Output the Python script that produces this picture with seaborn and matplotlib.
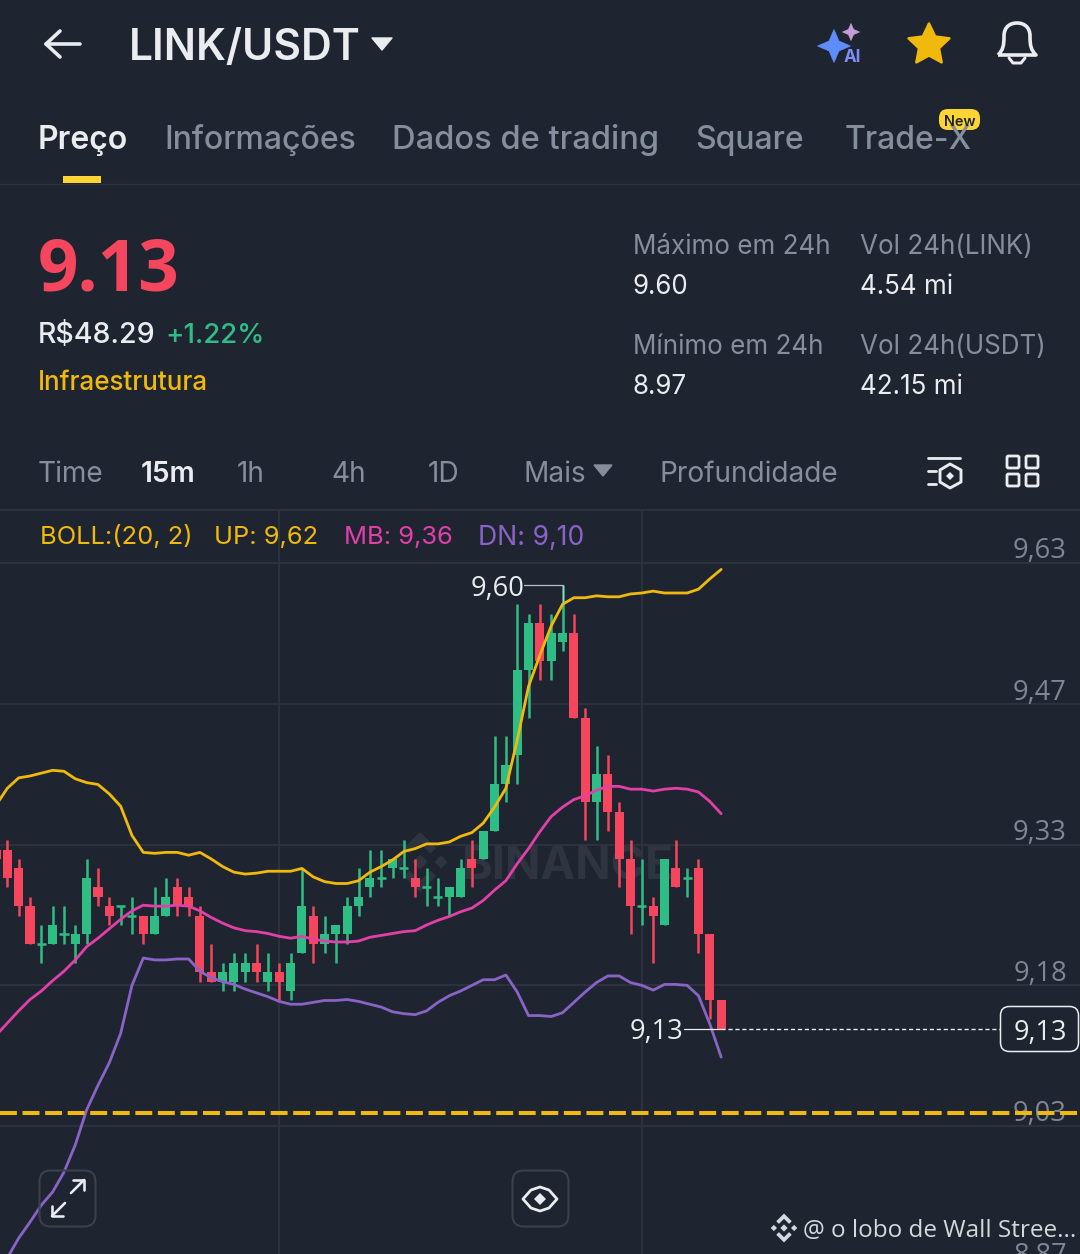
import numpy as np
import pandas as pd
import seaborn as sns
import matplotlib
matplotlib.use("Agg")
import matplotlib.pyplot as plt
from matplotlib.patches import FancyBboxPatch, Polygon, Rectangle, PathPatch
from matplotlib.path import Path
from matplotlib.transforms import ScaledTranslation

# ---------- data ----------
first_index = -1
opens  = [9.32,9.32,9.30,9.26,9.22,9.22,9.23,9.22,9.23,9.28,9.26,9.26,9.25,9.25,9.23,9.25,9.28,9.27,9.25,9.19,9.18,9.18,9.19,9.20,9.18,9.19,9.17,9.21,9.25,9.22,9.23,9.23,9.26,9.28,9.29,9.30,9.30,9.29,9.28,9.27,9.27,9.27,9.31,9.31,9.34,9.39,9.42,9.51,9.56,9.52,9.54,9.55,9.46,9.37,9.40,9.36,9.31,9.26,9.26,9.24,9.30,9.29,9.30,9.23,9.16]
highs  = [9.33,9.33,9.31,9.27,9.24,9.26,9.26,9.24,9.31,9.30,9.27,9.26,9.27,9.25,9.28,9.29,9.29,9.28,9.26,9.22,9.20,9.21,9.21,9.22,9.21,9.20,9.21,9.30,9.26,9.25,9.24,9.27,9.30,9.32,9.32,9.31,9.33,9.31,9.30,9.29,9.28,9.31,9.33,9.34,9.44,9.44,9.58,9.57,9.58,9.57,9.60,9.57,9.47,9.43,9.42,9.37,9.33,9.31,9.27,9.31,9.33,9.30,9.31,9.23,9.16]
lows   = [9.30,9.28,9.25,9.22,9.20,9.22,9.22,9.20,9.22,9.26,9.24,9.24,9.23,9.22,9.23,9.25,9.25,9.25,9.18,9.18,9.17,9.17,9.18,9.18,9.17,9.16,9.16,9.21,9.20,9.21,9.20,9.22,9.25,9.27,9.28,9.29,9.29,9.27,9.26,9.26,9.25,9.27,9.28,9.31,9.34,9.37,9.39,9.46,9.50,9.50,9.53,9.46,9.33,9.33,9.34,9.28,9.23,9.24,9.20,9.24,9.28,9.27,9.21,9.14,9.13]
closes = [9.31,9.29,9.26,9.22,9.22,9.24,9.23,9.23,9.29,9.27,9.25,9.26,9.25,9.23,9.25,9.27,9.26,9.26,9.19,9.18,9.19,9.20,9.20,9.19,9.19,9.18,9.20,9.26,9.22,9.23,9.24,9.26,9.27,9.29,9.29,9.31,9.30,9.28,9.28,9.27,9.28,9.30,9.30,9.34,9.39,9.41,9.51,9.56,9.52,9.55,9.55,9.46,9.37,9.40,9.36,9.31,9.26,9.26,9.25,9.31,9.28,9.29,9.23,9.16,9.13]
boll_up = [9.367,9.385,9.396,9.398,9.401,9.404,9.403,9.395,9.391,9.389,9.379,9.366,9.335,9.317,9.316,9.317,9.317,9.314,9.317,9.310,9.302,9.296,9.294,9.295,9.297,9.297,9.297,9.300,9.291,9.286,9.284,9.284,9.287,9.296,9.302,9.309,9.318,9.321,9.326,9.326,9.328,9.334,9.338,9.348,9.365,9.385,9.436,9.493,9.526,9.557,9.580,9.587,9.587,9.589,9.588,9.588,9.591,9.592,9.594,9.592,9.592,9.592,9.596,9.607,9.617]
boll_mb = [9.123,9.136,9.149,9.161,9.170,9.181,9.191,9.203,9.217,9.226,9.236,9.246,9.255,9.261,9.260,9.260,9.261,9.260,9.255,9.248,9.242,9.237,9.234,9.233,9.231,9.228,9.226,9.228,9.225,9.223,9.222,9.222,9.223,9.227,9.229,9.231,9.233,9.234,9.240,9.245,9.249,9.254,9.258,9.266,9.277,9.287,9.305,9.321,9.339,9.355,9.365,9.373,9.377,9.383,9.387,9.387,9.384,9.384,9.382,9.384,9.385,9.384,9.381,9.371,9.358]
boll_dn = [8.869,8.887,8.908,8.925,8.943,8.957,8.978,9.007,9.044,9.070,9.094,9.125,9.176,9.205,9.203,9.203,9.204,9.204,9.191,9.184,9.180,9.177,9.172,9.168,9.164,9.159,9.156,9.156,9.158,9.160,9.160,9.161,9.159,9.156,9.153,9.148,9.146,9.145,9.149,9.158,9.165,9.170,9.176,9.182,9.182,9.187,9.169,9.144,9.144,9.143,9.147,9.158,9.169,9.179,9.186,9.186,9.179,9.176,9.171,9.177,9.177,9.176,9.165,9.135,9.100]
axis_prices = [9.624, 9.474, 9.325, 9.176, 9.027, 8.877]
axis_labels = ["9,63", "9,47", "9,33", "9,18", "9,03", "8,87"]
grid_candles = [24, 56]
high_price, high_index, high_label = 9.60, 49, "9,60"
last_price, last_index, last_label = 9.13, 63, "9,13"
alert_price = 9.0406

BG = "#1f2530"; GRID = "#2e343f"; GREEN = "#2ebd85"; RED = "#f6465d"; WM = "#2e3540"
YEL = "#f0b90b"; MAG = "#e33fa9"; PUR = "#8a63c6"; WHITE = "#eaecef"; GRAY = "#848e9c"
NUM = ["Open Sans", "DejaVu Sans"]

sns.set_theme(style="dark", rc={"figure.facecolor": BG, "axes.facecolor": BG, "patch.edgecolor": "none"})
plt.rcParams["font.family"] = ["Inter", "DejaVu Sans"]

W, H = 1080, 1254
fig = plt.figure(figsize=(W / 100, H / 100), dpi=100, facecolor=BG)

def diamond(a, cx, cy, r, fc):
    a.add_patch(Polygon([(cx, cy - r), (cx + r, cy), (cx, cy + r), (cx - r, cy)], closed=True, fc=fc, ec="none"))

def binance_logo(a, cx, cy, r, fc):
    s = r / 30
    diamond(a, cx, cy, 7.5 * s, fc)
    for sx in (-1, 1):
        diamond(a, cx + sx * 21 * s, cy, 6.5 * s, fc)
    for sy in (-1, 1):
        chevron = [(0, 30), (16, 14), (10.5, 8.5), (0, 19), (-10.5, 8.5), (-16, 14)]
        a.add_patch(Polygon([(cx + px * s, cy + sy * py * s) for px, py in chevron], closed=True, fc=fc, ec="none"))

# ---------- watermark, beneath the chart ----------
wm = fig.add_axes([0, 0, 1, 1], facecolor="none", zorder=0)
wm.set_xlim(0, W); wm.set_ylim(H, 0); wm.axis("off")
wm.text(462, 862, "BINANCE", color=WM, fontsize=33.5, fontweight="bold", ha="left", va="center_baseline")
binance_logo(wm, 420, 862, 30, WM)

# ---------- chart axes (510 px to just below the picture) ----------
ax = fig.add_axes([0, -20 / H, 1, (H + 20 - 510) / H], facecolor="none", zorder=1)
idx = np.arange(first_index, first_index + len(opens))
df = pd.DataFrame({"i": idx, "open": opens, "high": highs, "low": lows, "close": closes,
                   "up": boll_up, "mb": boll_mb, "dn": boll_dn})
df["col"] = np.where(df.close >= df.open, GREEN, RED)
XLIM = (-0.647, 94.67); YLIM = (8.870, 9.680)

# candles
ax.vlines(df.i, df.low, df.high, colors=df.col, lw=1.8, zorder=2)
body = df[df.open != df.close]
ax.bar(body.i, (body.close - body.open).abs(), bottom=body[["open", "close"]].min(axis=1),
       width=0.8, color=body.col, zorder=2.1, linewidth=0)
doji = df[df.open == df.close]
ax.hlines(doji.close, doji.i - 0.4, doji.i + 0.4, colors=doji.col, lw=1.8, zorder=2.1)

# Bollinger bands
for col, c in (("up", YEL), ("mb", MAG), ("dn", PUR)):
    sns.lineplot(data=df, x="i", y=col, color=c, lw=2.0, ax=ax, zorder=3, legend=False)
ax.set_xlabel(""); ax.set_ylabel("")
ax.set_xlim(*XLIM); ax.set_ylim(*YLIM)
ax.set_yticks(axis_prices); ax.set_yticklabels(axis_labels, family=NUM)
ax.set_xticks(grid_candles); ax.set_xticklabels([])
ax.yaxis.tick_right()
ax.tick_params(axis="y", length=0, pad=-9.4, labelsize=19.6, labelcolor="#7f8794")
ax.tick_params(axis="x", length=0)
for t in ax.get_yticklabels():
    t.set_ha("right"); t.set_va("center")
    t.set_transform(t.get_transform() + ScaledTranslation(0, 11.5 / 100, fig.dpi_scale_trans))
ax.grid(True, color=GRID, lw=1.3)
ax.set_axisbelow(True)
for s in ax.spines.values():
    s.set_visible(False)

# alert line
ax.axhline(alert_price, color=YEL, lw=2.9, dashes=(4.2, 1.4), zorder=4)

# annotations
ax.plot([high_index - 3.4, high_index, high_index], [high_price, high_price, 9.58], color="#b7bdc6", lw=0.9, zorder=3)
ax.text(high_index - 3.4, high_price, high_label, color=WHITE, fontsize=19.6, ha="right", va="center_baseline", zorder=5, family=NUM)
ax.plot([last_index - 3.3, last_index], [last_price, last_price], color=WHITE, lw=0.9, zorder=5)
ax.plot([last_index, 87.6], [last_price, last_price], color=WHITE, lw=1, dashes=(3, 2), zorder=3)
ax.text(last_index - 3.3, last_price, last_label, color=WHITE, fontsize=19.6, ha="right", va="center_baseline", zorder=5, family=NUM)

# ---------- UI overlay in pixel coordinates ----------
ui = fig.add_axes([0, 0, 1, 1], facecolor="none", zorder=10)
ui.set_xlim(0, W); ui.set_ylim(H, 0); ui.axis("off")

def T(x, y, s, px, c=WHITE, w="normal", ha="left", fam=None):
    ui.text(x, y, s, fontsize=px * 0.72, color=c, fontweight=w, ha=ha, va="center_baseline",
            **({"family": fam} if fam else {}))

def L(xs, ys, c=WHITE, lw=3.0):
    ui.plot(xs, ys, color=c, lw=lw * 0.72, solid_capstyle="round", solid_joinstyle="round")

# header
L([46, 80], [44, 44], "#eaecef", 3.6)
L([60, 46, 60], [31, 44, 57], "#eaecef", 3.6)
T(129, 44, "LINK/USDT", 42.5, WHITE, "semibold")
ui.add_patch(Polygon([(372, 38), (392, 38), (382, 50)], closed=True, fc=WHITE, ec=WHITE, lw=1, joinstyle="round"))

def sparkle(cx, cy, r, fc):
    k = 0.3 * r
    ui.add_patch(Polygon([(cx, cy - r), (cx + k, cy - k), (cx + r, cy), (cx + k, cy + k),
                          (cx, cy + r), (cx - k, cy + k), (cx - r, cy), (cx - k, cy - k)],
                         closed=True, fc=fc, ec=fc, lw=0.5))
sparkle(834, 46, 16.5, "#5e8dfb")
sparkle(851, 32, 8.5, "#c79ad8")
T(852, 55, "AI", 17, "#7d8dfa", "bold", "center")

ang = np.deg2rad(-90 + 36 * np.arange(10))
rad = np.where(np.arange(10) % 2 == 0, 21.5, 10.5)
ui.add_patch(Polygon(np.c_[929 + rad * np.cos(ang), 45 + rad * np.sin(ang)], closed=True,
                     fc=YEL, ec=YEL, lw=1.8, joinstyle="round"))

bell = Path([(998, 55), (1003, 50), (1004, 46), (1004, 36), (1004, 27), (1010, 23), (1017, 23),
             (1024, 23), (1030, 27), (1030, 36), (1030, 46), (1031, 50), (1036, 55), (998, 55)],
            [1, 4, 4, 4, 4, 4, 4, 4, 4, 4, 4, 4, 4, 2])
ui.add_patch(PathPatch(bell, fc="none", ec="#eaecef", lw=2.6, joinstyle="round"))
L([1009, 1013, 1021, 1025], [58, 63, 63, 58], "#eaecef", 3)

# tabs
for x, s, c, px in [(38, "Preço", WHITE, 32), (164, "Informações", GRAY, 32),
                    (392.5, "Dados de trading", GRAY, 32.7), (695.5, "Square", GRAY, 32),
                    (844.5, "Trade-X", GRAY, 32)]:
    T(x, 137, s, px, c, "semibold" if s == "Preço" else "medium")
ui.add_patch(FancyBboxPatch((939, 109), 41, 21, boxstyle="round,pad=0,rounding_size=9", fc="#fcd535", ec="none"))
T(959.5, 120, "New", 14.5, "#1e2329", "semibold", "center")
ui.add_patch(Rectangle((63, 176), 38, 7, fc="#fcd535", ec="none"))
ui.plot([0, W], [183.5, 183.5], color="#2e343f", lw=1)

# price block
T(38, 263, "9.13", 71, RED, "bold", fam=NUM)
T(38, 333, "R$48.29", 28.5, WHITE, "medium")
T(165, 333, "+1.22%", 27.5, GREEN, "medium")
T(38, 380, "Infraestrutura", 26, YEL, "medium")
for x, y, s, c in [(633, 244, "Máximo em 24h", GRAY), (633, 284, "9.60", WHITE), (860, 244, "Vol 24h(LINK)", GRAY),
                   (860, 284, "4.54 mi", WHITE), (633, 344, "Mínimo em 24h", GRAY), (633, 384, "8.97", WHITE),
                   (860, 344, "Vol 24h(USDT)", GRAY), (860, 384, "42.15 mi", WHITE)]:
    T(x, y, s, 26, c)

# interval row
for x, s, c, w in [(38, "Time", GRAY, "normal"), (141, "15m", WHITE, "semibold"), (237, "1h", GRAY, "normal"),
                   (331, "4h", GRAY, "normal"), (428, "1D", GRAY, "normal"), (523, "Mais", GRAY, "normal"),
                   (659, "Profundidade", GRAY, "normal")]:
    T(x, 472, s, 28, c, w)
ui.add_patch(Polygon([(594, 465), (612, 465), (603, 476)], closed=True, fc=GRAY, ec=GRAY, lw=1))
L([928, 960], [457.5, 457.5], "#eaecef", 2.8)
L([928, 936], [471, 471], "#eaecef", 2.8)
L([928, 936], [484, 484], "#eaecef", 2.8)
ui.add_patch(Polygon([(950, 464), (961, 470), (961, 482), (950, 488), (940, 482), (940, 470)], closed=True,
                     fc="none", ec="#eaecef", lw=2.1, joinstyle="round"))
diamond(ui, 950, 476, 4, "#eaecef")
for x, y in [(1007, 456), (1026, 456), (1007, 474), (1026, 474)]:
    ui.add_patch(FancyBboxPatch((x, y), 12, 12, boxstyle="round,pad=0,rounding_size=1.5", fc="none", ec="#eaecef", lw=2.0))
ui.plot([0, W], [510, 510], color="#2e343f", lw=1.4)

# indicator legend
for x, s, c, px in [(40, "BOLL:(20, 2)", YEL, 25.5), (214, "UP: 9,62", YEL, 25.5), (344, "MB: 9,36", MAG, 25.5), (478, "DN: 9,10", PUR, 26.5)]:
    T(x, 535, s, px, c)

# price box
ui.add_patch(FancyBboxPatch((1000.5, 1006.5), 78, 45, boxstyle="round,pad=0,rounding_size=9", fc=BG, ec="#eaecef", lw=1.1))
T(1040, 1030, last_label, 27, WHITE, "normal", "center", NUM)

# buttons
for x in (39, 512):
    ui.add_patch(FancyBboxPatch((x + 0.5, 1170.5), 56, 56, boxstyle="round,pad=0,rounding_size=11", fc="none", ec="#3a414c", lw=1.5))
L([71, 84], [1193, 1180], "#eaecef", 2.6); L([73, 84, 84], [1180, 1180, 1190], "#eaecef", 2.6)
L([65, 52], [1203, 1216], "#eaecef", 2.6); L([52, 52, 63], [1206, 1216, 1216], "#eaecef", 2.6)
ui.add_patch(Polygon([(523, 1199), (531, 1190), (540, 1187), (549, 1190), (557, 1199), (549, 1208), (540, 1211), (531, 1208)],
                     closed=True, fc="none", ec="#eaecef", lw=2, joinstyle="round"))
diamond(ui, 540, 1199, 6, "#eaecef")

# footer
binance_logo(ui, 784, 1228, 14.5, "#d5d8dc")
T(803, 1228, "@ o lobo de Wall Stree...", 24.3, "#d5d8dc", "normal", "left", NUM)

fig.savefig("out.png", dpi=100, facecolor=BG)
